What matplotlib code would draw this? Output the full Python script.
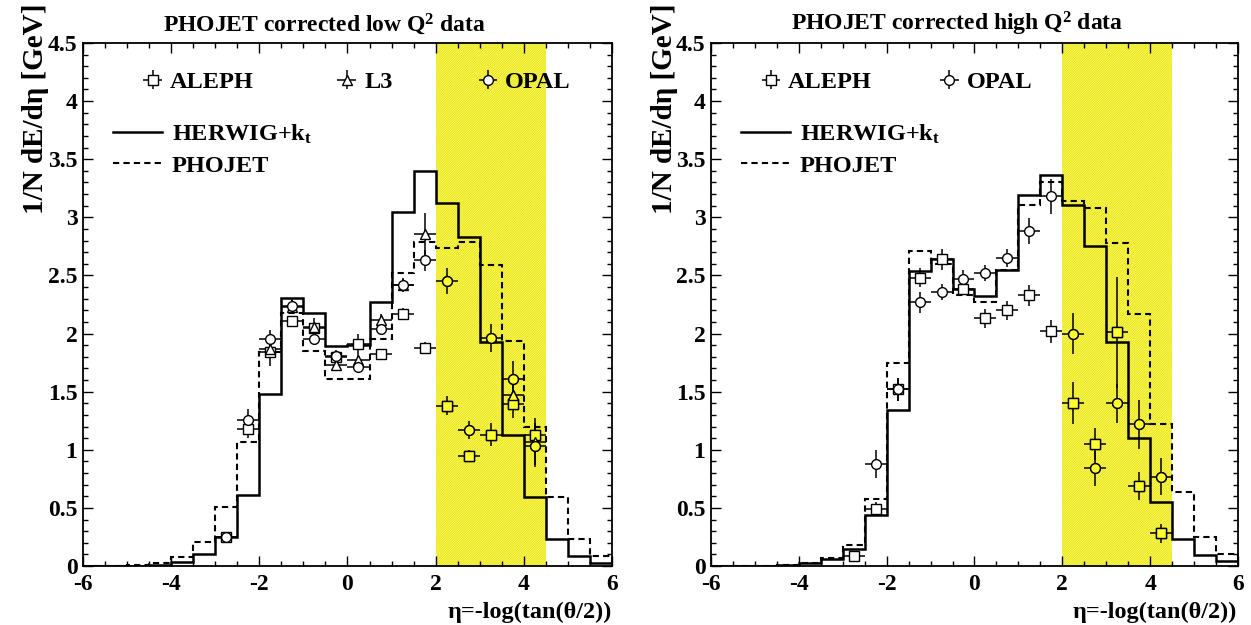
import numpy as np
import matplotlib
matplotlib.use('Agg')
import matplotlib.pyplot as plt
from matplotlib.legend import Legend
from matplotlib.legend_handler import HandlerErrorbar
from matplotlib.lines import Line2D
from matplotlib.ticker import MultipleLocator

plt.rcParams['font.family'] = ['Liberation Serif', 'DejaVu Serif']
plt.rcParams['font.weight'] = 'bold'
plt.rcParams['mathtext.fontset'] = 'custom'
plt.rcParams['mathtext.rm'] = 'Liberation Serif:bold'
plt.rcParams['mathtext.it'] = 'Liberation Serif:italic:bold'
plt.rcParams['mathtext.bf'] = 'Liberation Serif:bold'
plt.rcParams['axes.unicode_minus'] = False
plt.rcParams['hatch.linewidth'] = 0.4
plt.rcParams['xtick.labelsize'] = 17
plt.rcParams['ytick.labelsize'] = 17

# eta bins (-6 .. 6, width 0.5)
eta_edges = np.arange(-6.0, 6.01, 0.5)

# low Q^2 panel
herwig_low = [0, 0, 0.003, 0.01, 0.035, 0.10, 0.25, 0.61, 1.48, 2.31, 2.18, 1.89,
              1.90, 2.27, 3.05, 3.40, 3.12, 2.83, 1.93, 1.13, 0.59, 0.23, 0.087, 0.03]
phojet_low = [0, 0, 0.005, 0.023, 0.075, 0.21, 0.51, 1.07, 1.84, 2.18, 1.85, 1.61,
              1.61, 1.95, 2.52, 2.79, 2.74, 2.79, 2.59, 1.94, 1.20, 0.59, 0.23, 0.087]

eta_aleph_low = [-2.75, -2.25, -1.75, -1.25, -0.75, -0.25, 0.25, 0.75, 1.25, 1.75, 2.25, 2.75, 3.25, 3.75, 4.25]
aleph_low = [0.25, 1.18, 1.84, 2.11, 2.05, 1.80, 1.91, 1.82, 2.17, 1.88, 1.38, 0.95, 1.13, 1.39, 1.13]
aleph_low_err = [0.02, 0.08, 0.12, 0.04, 0.04, 0.04, 0.09, 0.04, 0.05, 0.05, 0.08, 0.05, 0.10, 0.12, 0.10]

eta_l3_low = [-1.75, -1.25, -0.75, -0.25, 0.25, 0.75, 1.25, 1.75, 3.75, 4.25]
l3_low = [1.87, 2.23, 2.06, 1.73, 1.77, 2.12, 2.42, 2.86, 1.47, 1.07]
l3_low_err = [0.05, 0.06, 0.07, 0.05, 0.05, 0.05, 0.05, 0.18, 0.10, 0.20]

eta_opal_low = [-2.75, -2.25, -1.75, -1.25, -0.75, -0.25, 0.25, 0.75, 1.25, 1.75, 2.25, 2.75, 3.25, 3.75, 4.25]
opal_low = [0.25, 1.26, 1.95, 2.24, 1.95, 1.81, 1.71, 2.04, 2.42, 2.63, 2.45, 1.17, 1.96, 1.61, 1.03]
opal_low_err = [0.03, 0.09, 0.08, 0.06, 0.04, 0.05, 0.04, 0.05, 0.06, 0.09, 0.11, 0.08, 0.12, 0.15, 0.18]

# high Q^2 panel
herwig_high = [0, 0, 0, 0.005, 0.023, 0.058, 0.15, 0.44, 1.34, 2.54, 2.64, 2.38,
               2.32, 2.55, 3.19, 3.36, 3.11, 2.75, 1.93, 1.10, 0.55, 0.23, 0.095, 0.04]
phojet_high = [0, 0, 0, 0.008, 0.03, 0.07, 0.18, 0.58, 1.75, 2.71, 2.60, 2.33,
               2.27, 2.55, 3.11, 3.30, 3.14, 3.08, 2.78, 2.17, 1.22, 0.64, 0.25, 0.10]

eta_aleph_high = [-2.75, -2.25, -1.75, -1.25, -0.75, -0.25, 0.25, 0.75, 1.25, 1.75, 2.25, 2.75, 3.25, 3.75, 4.25]
aleph_high = [0.087, 0.49, 1.52, 2.48, 2.64, 2.38, 2.13, 2.20, 2.33, 2.02, 1.40, 1.05, 2.01, 0.69, 0.28]
aleph_high_err = [0.03, 0.06, 0.10, 0.08, 0.09, 0.05, 0.08, 0.08, 0.09, 0.10, 0.18, 0.14, 0.48, 0.12, 0.08]

eta_opal_high = [-2.25, -1.75, -1.25, -0.75, -0.25, 0.25, 0.75, 1.25, 1.75, 2.25, 2.75, 3.25, 3.75, 4.25]
opal_high = [0.88, 1.52, 2.27, 2.36, 2.47, 2.52, 2.65, 2.88, 3.18, 2.00, 0.84, 1.40, 1.22, 0.77]
opal_high_err = [0.12, 0.10, 0.09, 0.07, 0.08, 0.07, 0.08, 0.11, 0.15, 0.18, 0.15, 0.17, 0.21, 0.16]

band = (2.0, 4.5)
band_color = '#ffff30'

FS_LEG = 17.5


def data_points(ax, eta, val, err, marker, ms):
    eb = ax.errorbar(eta, val, yerr=err, xerr=0.25, fmt=marker, ms=ms, mfc='white',
                     mec='k', mew=1.0, ecolor='k', elinewidth=1.1, capsize=0, zorder=3)
    eta = np.asarray(eta)
    val = np.asarray(val)
    inb = (eta > band[0]) & (eta < band[1])
    ax.plot(eta[inb], val[inb], ls='none', marker=marker, ms=ms, mfc=band_color,
            mec='k', mew=1.0, zorder=3.5)
    return eb


def leg_entry(ax, handle, label, x, y, hlen, pad, handler=None):
    kw = {}
    if handler is not None:
        kw['handler_map'] = {type(handle): handler}
    lg = Legend(ax, [handle], [label], loc='center left', bbox_to_anchor=(x, y),
                bbox_transform=ax.transAxes, frameon=False, borderpad=0, borderaxespad=0,
                handlelength=hlen, handletextpad=pad, prop={'size': FS_LEG, 'weight': 'bold'},
                **kw)
    ax.add_artist(lg)


def style_axes(ax):
    ax.set_xlim(-6, 6)
    ax.set_ylim(0, 4.5)
    ax.xaxis.set_major_locator(MultipleLocator(2))
    ax.xaxis.set_minor_locator(MultipleLocator(0.5))
    ax.yaxis.set_major_locator(MultipleLocator(0.5))
    ax.yaxis.set_minor_locator(MultipleLocator(0.1))
    ax.yaxis.set_major_formatter(plt.FuncFormatter(lambda v, p: '%g' % v))
    ax.xaxis.set_major_formatter(plt.FuncFormatter(lambda v, p: '%g' % v))
    ax.tick_params(which='both', direction='in', top=True, right=True, width=1.0)
    ax.tick_params(which='major', length=7)
    ax.tick_params(which='minor', length=3.8)
    ax.tick_params(axis='y', pad=4)
    ax.tick_params(axis='x', pad=6)
    for s in ax.spines.values():
        s.set_linewidth(1.3)
    ax.axvspan(band[0], band[1], facecolor=band_color, edgecolor='#d6cc55',
               hatch='/' * 14, linewidth=0, zorder=0.5)


fig = plt.figure(figsize=(12.51, 6.25), dpi=100)
ax1 = fig.add_axes([0.0663, 0.0944, 0.4229, 0.8368])
ax2 = fig.add_axes([0.5683, 0.0944, 0.4213, 0.8368])

eh = HandlerErrorbar(xerr_size=0.38, yerr_size=0.38)

# left panel
style_axes(ax1)
ax1.stairs(herwig_low, eta_edges, color='k', lw=1.8, zorder=2)
ax1.stairs(phojet_low, eta_edges, color='k', lw=1.5, ls=(0, (3, 2)), zorder=2)
h_al = data_points(ax1, eta_aleph_low, aleph_low, aleph_low_err, 's', 7.2)
h_l3 = data_points(ax1, eta_l3_low, l3_low, l3_low_err, '^', 7.2)
h_op = data_points(ax1, eta_opal_low, opal_low, opal_low_err, 'o', 7.0)
leg_entry(ax1, h_al, 'ALEPH', 0.1134, 0.925, 0.8, 0.3, eh)
leg_entry(ax1, h_l3, 'L3', 0.480, 0.925, 0.8, 0.33, eh)
leg_entry(ax1, h_op, 'OPAL', 0.7473, 0.925, 0.8, 0.3, eh)
leg_entry(ax1, Line2D([], [], color='k', lw=1.8), r'HERWIG+k$_\mathrm{t}$', 0.0573, 0.825, 2.0, 0.41)
leg_entry(ax1, Line2D([], [], color='k', lw=1.5, ls=(0, (3, 2))), 'PHOJET', 0.0573, 0.765, 2.0, 0.41)
ax1.text(0.151, 1.0 + 12 / 523, r'PHOJET corrected low Q$^{2}$ data', transform=ax1.transAxes,
         ha='left', va='baseline', fontsize=17, fontweight='bold')

# right panel
style_axes(ax2)
ax2.stairs(herwig_high, eta_edges, color='k', lw=1.8, zorder=2)
ax2.stairs(phojet_high, eta_edges, color='k', lw=1.5, ls=(0, (3, 2)), zorder=2)
h_al2 = data_points(ax2, eta_aleph_high, aleph_high, aleph_high_err, 's', 7.2)
h_op2 = data_points(ax2, eta_opal_high, opal_high, opal_high_err, 'o', 7.0)
leg_entry(ax2, h_al2, 'ALEPH', 0.0954, 0.925, 0.8, 0.3, eh)
leg_entry(ax2, h_op2, 'OPAL', 0.434, 0.925, 0.8, 0.3, eh)
leg_entry(ax2, Line2D([], [], color='k', lw=1.8), r'HERWIG+k$_\mathrm{t}$', 0.057, 0.825, 2.0, 0.41)
leg_entry(ax2, Line2D([], [], color='k', lw=1.5, ls=(0, (3, 2))), 'PHOJET', 0.057, 0.765, 2.0, 0.41)
ax2.text(0.151, 1.0 + 12 / 523, r'PHOJET corrected high Q$^{2}$ data', transform=ax2.transAxes,
         ha='left', va='baseline', fontsize=17, fontweight='bold')

# axis labels
for xc, xr in [(36 / 1251, 0.4892), (664 / 1251, 0.9888)]:
    fig.text(xc, 0.995, '1/N dE/dη [GeV]', rotation=90, ha='center', va='top',
             fontsize=21, fontweight='bold')
    fig.text(xr, 0.003, 'η=-log(tan(θ/2))', ha='right', va='bottom',
             fontsize=17.5, fontweight='bold')

fig.savefig('out.png', dpi=100)
